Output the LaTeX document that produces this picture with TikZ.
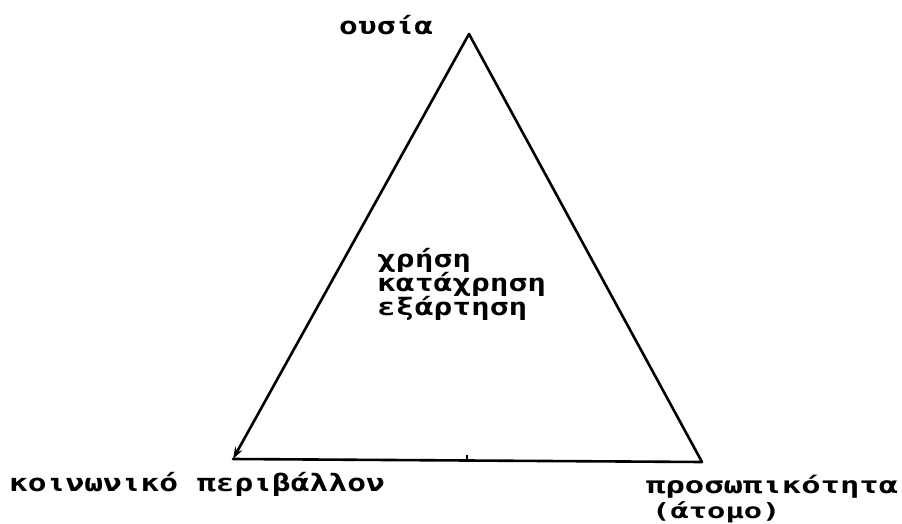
\documentclass[tikz,border=0pt]{standalone}
\usepackage{fontspec}
\setmainfont{DejaVu Sans Mono}
\usetikzlibrary{arrows.meta}
\newcommand\gtxt[1]{\scalebox{1.3}[1]{#1}}
\tikzset{
  lbl/.style={anchor=base west, inner sep=0pt, font=\fontsize{24}{24}\selectfont\bfseries},
  edge/.style={line width=2.6pt, line cap=round, line join=round},
}
\begin{document}
\begin{tikzpicture}[x=1pt,y=-1pt]
\useasboundingbox (0,0) rectangle (902,524);
\coordinate (A) at (469,34);
\coordinate (B) at (233,459);
\coordinate (C) at (702,462);
\coordinate (T1) at (467,459);
\coordinate (T2) at (467,455);
\draw[edge] (C) -- (A);
\draw[edge,-{Stealth[length=12pt,width=8pt]}] (A) -- (B);
\draw[edge] (B) -- (C);
\draw[line width=1.2pt] (T1) -- (T2);
\node[lbl] (top) at (339,35) {\gtxt{ουσία}};
\node[lbl] (c1) at (377,267) {\gtxt{χρήση}};
\node[lbl] (c2) at (377,291) {\gtxt{κατάχρηση}};
\node[lbl] (c3) at (377,315) {\gtxt{εξάρτηση}};
\node[lbl] (bl) at (9,491) {\gtxt{κοινωνικό περιβάλλον}};
\node[lbl,font=\fontsize{23}{23}\selectfont\bfseries] (br1) at (646,493) {\scalebox{1.4}[1]{προσωπικότητα}};
\node[lbl,font=\fontsize{21}{21}\selectfont\bfseries] (br2) at (652,518) {\scalebox{1.45}[1]{(άτομο)}};
\end{tikzpicture}
\end{document}
